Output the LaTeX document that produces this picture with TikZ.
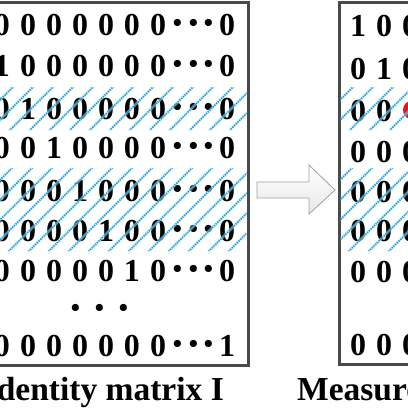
\documentclass[tikz,border=0pt]{standalone}
\usepackage{fontspec}
\setmainfont{Liberation Serif}
\definecolor{boxgray}{HTML}{4A4A4A}
\definecolor{hatchblue}{HTML}{1E9FDC}
\definecolor{hatchlight}{HTML}{A8DDF2}
\definecolor{arrowline}{HTML}{A0A0A0}
\definecolor{markred}{HTML}{E3161C}
\begin{document}
\begin{tikzpicture}[x=1pt,y=-1pt,
  dig/.style={anchor=base,inner sep=0pt,font=\fontsize{32}{32}\selectfont\bfseries},
  dotsty/.style={anchor=base,inner sep=0pt,text height=16pt,text depth=0pt,font=\fontsize{44}{44}\selectfont\bfseries},
  captext/.style={inner sep=0pt,font=\fontsize{33.5}{33.5}\selectfont\bfseries},
  frame/.style={draw=boxgray,line width=3pt},
  hatchunder/.style={draw=hatchlight,line width=2.6pt},
  hatchline/.style={draw=hatchblue,line width=1.7pt,dash pattern=on 1.3pt off 1.1pt},
  arrowbox/.style={draw=arrowline,line width=0.8pt,top color=white,bottom color=black!9}]
\useasboundingbox (0,0) rectangle (408,408);
\clip (0,0) rectangle (408,408);
% frames
\draw[frame] (-10,2) rectangle (248,365.5);
\draw[frame] (339.5,2) rectangle (420,364);
% left matrix
\foreach \r/\y in {0/25,1/66,2/109,3/148,4/191,5/231,6/271} {
  \foreach \c in {1,...,7} {
    \pgfmathtruncatemacro\d{\c==\r ? 1 : 0}
    \node[dig] (l\r c\c) at ({2+26*(\c-1)},\y+10.8) {\d};
  }
  \node[dotsty] (l\r dots) at (193.5,\y+12.5) {·\kern1pt·\kern1pt·};
  \node[dig] (l\r last) at (227,\y+10.8) {0};
}
\node[dotsty] (lvdots) at (100,310+12.5) {·\kern9pt·\kern9pt·};
\foreach \c in {1,...,7} {
  \node[dig] (l8c\c) at ({2+26*(\c-1)},346+10.8) {0};
}
\node[dotsty] (l8dots) at (193.5,346+12.5) {·\kern1pt·\kern1pt·};
\node[dig] (l8last) at (227,346+10.8) {1};
% right matrix
\foreach \r/\y/\a/\b/\e in {0/26/1/0/0,1/69/0/1/0,3/152/0/0/0,4/192/0/0/0,5/231/0/0/0,6/272/0/0/0,8/345/0/0/0} {
  \node[dig] (r\r c1) at (358,\y+10.8) {\a};
  \node[dig] (r\r c2) at (384,\y+10.8) {\b};
  \node[dig] (r\r c3) at (410,\y+10.8) {\e};
}
\node[dig] (r2c1) at (358,111+10.8) {0};
\node[dig] (r2c2) at (384,111+10.8) {0};
\fill[markred] (412.5,110) ellipse [x radius=9.5, y radius=9.5];
% hatched bands (over the digits)
\begin{scope}
  \clip (0,87) rectangle (246.5,130) (0,168) rectangle (246.5,251)
        (340.5,87) rectangle (408,130) (340.5,168) rectangle (408,251);
  \foreach \i in {-10,...,21} {
    \draw[hatchunder,opacity=0.6] (\i*20,260) -- ++(185,-185);
    \draw[hatchline] (\i*20,260) -- ++(185,-185);
  }
\end{scope}
% arrow
\draw[arrowbox] (257,182) -- (309,182) -- (309,165) -- (335,190) -- (309,214) -- (309,198) -- (257,198) -- cycle;
% captions
\node[captext,anchor=base east] (capL) at (224,400) {Identity matrix I};
\node[captext,anchor=base west] (capR) at (297,400) {Measurement matrix};
\end{tikzpicture}
\end{document}
